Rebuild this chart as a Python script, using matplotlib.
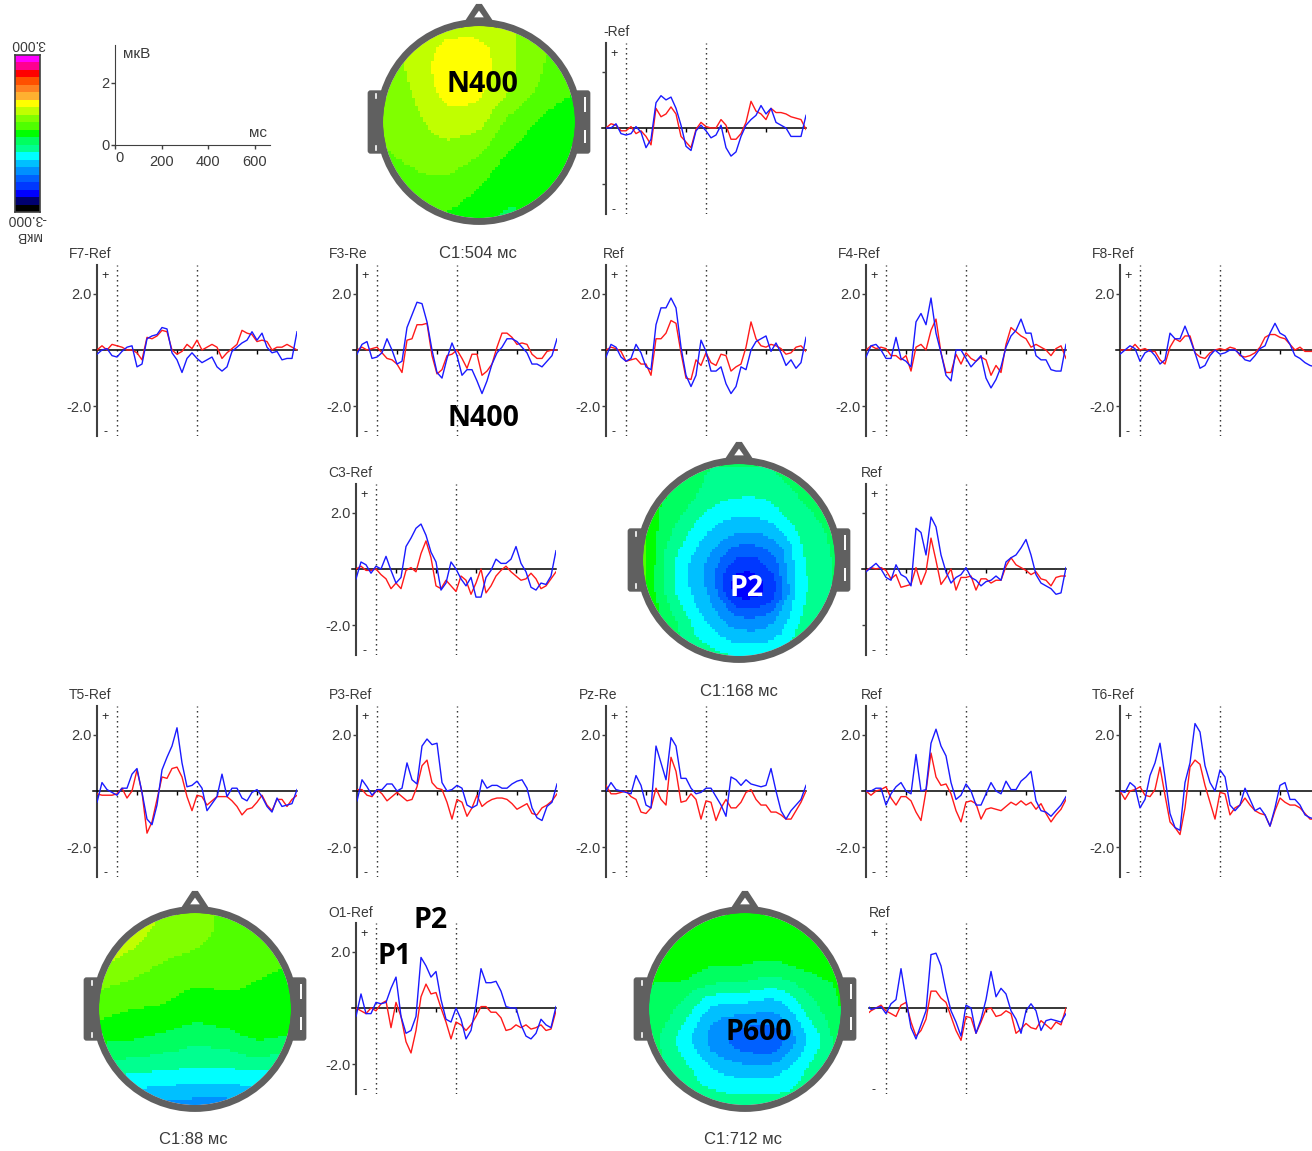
import matplotlib
matplotlib.use("Agg")
import matplotlib.pyplot as plt
import matplotlib.tri as mtri
import numpy as np
from matplotlib.colors import ListedColormap, BoundaryNorm
from matplotlib.patches import Circle, Polygon, FancyBboxPatch

plt.rcParams["font.family"] = ["Liberation Sans", "DejaVu Sans"]

W, H = 1312, 1151
TEXT = "#3a3a3a"
GRAY = "#606060"
BLUE = "#1a1aff"
RED = "#ff1a1a"

# time axis of every trace, ms
t_ms = list(range(-100, 901, 25))

# =========================
# Traces, microvolts
# =========================
fz_top_blue = [0, 0, .15, -.2, -.25, -.2, .05, -.15, -.7, -.4,
               .9, 1.15, 1.0, 1.1, .7, .1, -.65, -.8, -.1, .1,
               -.1, -.35, -.25, .1, -.7, -1.0, -.85, -.3, .1, .3,
               .45, .8, .5, .7, .2, .1, 0, -.3, -.3, -.3, .45]
fz_top_red = [0, .15, .1, -.1, -.1, .05, -.2, -.1, -.3, -.6,
              .7, .4, .5, .75, .5, -.3, -.5, -.7, -.05, .2,
              .05, 0, 0, .3, .1, -.4, -.4, -.2, .2, .95,
              .6, .5, .3, .7, .55, .55, .5, .4, .35, .3, -.05]

f7_blue = [-.15, 0, .05, -.2, -.25, -.05, .1, .15, -.6, -.5,
           .4, .5, .55, .8, .75, -.1, -.35, -.8, -.3, -.1,
           -.3, -.45, -.35, -.25, -.6, -.75, -.6, -.05, .1, .25,
           .35, .65, .35, .6, .1, -.1, -.05, -.35, -.3, -.3, .65]
f7_red = [0, .15, 0, .2, .15, .1, 0, 0, -.1, -.35,
          .45, .4, .5, .7, .65, 0, -.15, -.05, .2, .05,
          .35, 0, .1, .2, .1, -.3, -.1, .05, .2, .7,
          .6, .55, .3, .35, .3, 0, .1, .1, .2, .1, 0]

f3_blue = [-.15, .2, .3, -.3, -.25, -.1, .4, 0, -.5, -.4,
           .8, 1.25, 1.7, 1.65, 1.0, 0, -.8, -1.0, -.3, .25,
           -.2, -.9, -.7, -.7, -1.1, -1.55, -1.1, -.5, -.1, .1,
           .4, .4, .3, .1, -.1, -.5, -.5, -.6, -.4, -.2, .4]
f3_red = [0, .1, 0, .05, .1, -.1, -.3, -.35, -.5, -.8,
          .35, .4, .9, .9, .95, -.2, -.85, -.7, -.2, -.15,
          0, -.3, -.65, -.15, -.15, -.9, -.75, -.5, .1, .6,
          .6, .45, .2, .25, .2, -.15, -.3, -.3, -.05, 0, 0]

fz_blue = [-.25, .2, .1, -.25, -.4, -.3, .2, -.1, -.6, -.7,
           .9, 1.5, 1.5, 1.85, 1.5, .1, -.9, -1.3, -.9, .35,
           -.05, -.75, -.75, -.6, -1.2, -1.55, -1.3, -.6, -.7, 0,
           .3, .4, .5, -.05, .25, -.1, -.55, -.35, -.65, -.45, .45]
fz_red = [0, .1, .05, -.05, -.4, -.35, -.3, -.5, -.5, -.9,
          .4, .4, .6, 1.05, .95, -.1, -1.0, -1.05, -.35, -.55,
          -.1, -.45, -.55, -.15, -.2, -.75, -.6, -.5, .1, 1.0,
          .4, .15, .1, .2, .15, .05, -.15, -.1, .1, .15, -.05]

f4_blue = [-.25, .15, .2, 0, -.3, -.3, .45, -.3, -.4, -.6,
           1.0, 1.3, .9, 1.85, .6, -.1, -.9, -1.1, 0, 0,
           -.3, -.6, -.4, -.2, -1.0, -1.35, -1.05, -.6, .1, .5,
           .7, 1.1, .6, .6, -.2, -.35, -.35, -.7, -.75, -.75, .2]
f4_red = [0, .15, .05, .1, .05, -.2, -.2, -.35, -.2, -.75,
          .1, .2, 0, .7, 1.1, -.1, -.8, -.8, -.15, -.5,
          -.1, -.3, -.4, -.25, -.35, -.9, -.55, -.8, .2, .8,
          .65, .5, .4, .1, .2, .1, 0, -.2, .05, .15, -.3]

f8_blue = [-.15, 0, .15, .05, -.4, -.1, 0, -.2, -.5, -.35,
           .6, .4, .4, .85, .4, -.1, -.65, -.55, -.2, 0,
           -.15, -.1, 0, 0, -.15, -.35, -.4, -.2, .05, .15,
           .6, .95, .6, .5, .2, -.2, -.3, -.45, -.55, -.6, -.65]
f8_red = [0, 0, 0, .2, 0, .05, -.05, -.05, -.35, -.5,
          .1, .4, .3, .5, .5, -.1, -.25, -.3, -.1, 0,
          .05, 0, .1, .05, -.2, -.25, -.2, -.1, .1, .45,
          .55, .55, .45, .4, .2, 0, .1, -.05, -.05, -.05, -.05]

c3_blue = [-.35, .25, .15, -.15, .1, 0, .45, -.05, -.5, -.3,
           .8, 1.1, 1.45, 1.6, 1.2, .6, .25, -.75, -.5, .25,
           0, -.35, -.6, -.3, -1.0, -1.0, -.3, -.05, .35, .2,
           .2, .35, .8, .2, -.1, -.65, -.75, -.5, -.55, -.25, .65]
c3_red = [0, .1, -.05, -.05, 0, -.2, -.35, -.7, -.5, -.7,
          -.05, .05, -.1, .55, 1.0, .4, -.6, -.7, -.4, -.6,
          -.8, -.25, -.4, -.9, -.5, 0, -.85, -.6, -.25, -.05,
          .1, -.1, -.25, -.4, -.35, -.15, -.35, -.7, -.6, -.35, -.1]

c4_blue = [-.1, .05, .2, 0, -.3, -.4, .15, -.2, -.3, -.6,
           1.45, 1.3, .5, 1.85, 1.5, .5, -.1, -.5, -.3, -.2,
           .05, -.3, -.4, -.6, -.45, -.4, -.25, -.4, .25, .4,
           .5, .75, 1.05, .5, -.2, -.5, -.6, -.7, -.9, -.85, .05]
c4_red = [-.05, .05, 0, .05, -.05, -.35, -.2, -.65, -.6, -.55,
          .05, -.55, -.1, 1.1, .3, -.55, -.3, 0, -.75, -.3,
          -.3, -.25, -.75, -.35, -.35, -.5, -.4, -.4, .1, .4,
          .15, .05, -.05, -.2, -.1, -.35, -.4, -.6, -.3, -.25, -.25]

t5_blue = [-.4, .3, .05, -.05, -.15, .1, .1, .6, .8, -.05,
           -1.0, -1.2, -.5, .75, 1.2, 1.6, 2.25, 1.0, .15, .2,
           .35, .1, -.7, -.45, -.2, .6, -.2, .1, .1, -.25,
           -.35, -.05, .05, -.2, -.55, -.75, -.25, -.55, -.5, -.45, .05]
t5_red = [-.1, -.15, -.15, -.15, -.1, .1, -.25, 0, .75, -.05,
          -1.5, -1.1, -.3, .5, .45, .8, .85, .5, -.2, -.7,
          -.15, -.2, -.5, -.35, -.2, -.2, -.2, -.35, -.55, -.85,
          -.65, -.6, -.4, -.15, -.5, -.7, -.3, -.3, -.55, -.3, -.15]

p3_blue = [-.35, .4, .15, -.15, .05, .05, .25, .25, 0, .1,
           1.0, .4, .25, 1.6, 1.85, 1.65, 1.7, .3, 0, .05,
           .2, .1, -.5, -.6, -.5, .4, .1, .2, .2, .1,
           .1, .25, .35, .4, .1, -.6, -.95, -1.05, -.55, -.4, .25]
p3_red = [.05, .05, -.15, -.2, .05, -.1, -.35, -.2, -.05, -.2,
          -.35, -.3, .15, .9, 1.1, .3, .1, .05, -.4, -1.0,
          -.3, -.4, -.9, -.6, -.15, -.55, -.4, -.3, -.25, -.25,
          -.3, -.45, -.65, -.55, -.45, -.8, -.85, -.6, -.5, -.35, -.1]

pz_blue = [0, .3, .05, 0, -.05, -.1, .55, .2, -.5, -.6,
           1.6, 1.0, .4, 1.9, 1.6, .45, .45, .1, -.1, -.05,
           .1, .1, -.2, -.5, -.9, .5, .4, .2, .4, .25,
           .2, .15, .2, .8, 0, -.7, -1.0, -.7, -.5, -.3, .2]
pz_red = [.2, -.1, -.1, -.05, 0, -.2, -.3, -.75, -.8, -.6,
          .1, -.3, -.5, 1.2, .7, -.4, -.35, -.1, -.3, -1.0,
          -.35, -.4, -1.05, -.6, -.3, -.6, -.6, -.4, -.05, .05,
          -.3, -.5, -.5, -.75, -.75, -.85, -1.0, -1.0, -.7, -.4, 0]

p4_blue = [0, 0, .1, .1, -.5, -.1, .15, .3, 0, -.1,
           1.3, 0, .05, 1.7, 2.2, 1.6, 1.25, .3, -.3, -.15,
           .25, 0, -.5, -.5, -.1, .3, 0, -.1, .35, .05,
           .05, .35, .5, .7, -.35, -.7, -.75, -.9, -.7, -.5, -.2]
p4_red = [0, -.15, 0, .05, .15, -.25, -.5, -.2, -.2, -.35,
          -.75, -1.05, 0, 1.35, .5, .2, .25, -.1, -.7, -1.1,
          -.4, -.35, -.45, -1.0, -.65, -.6, -.65, -.7, -.55, -.4,
          -.5, -.35, -.5, -.4, -.65, -.45, -.8, -1.1, -.85, -.65, -.3]

t6_blue = [0, -.05, .3, .15, -.6, -.3, .55, 1.0, 1.7, .5,
           -.8, -1.3, -1.4, .3, 1.0, 2.4, 2.1, .9, .3, 0,
           .75, .5, -.5, -.7, -.5, .1, -.3, -.7, -.6, -.85,
           -1.25, -.6, .2, .3, -.3, -.3, -.5, -.85, -.95, -1.0, -1.05]
t6_red = [0, -.3, 0, .05, .15, -.15, -.2, .05, .85, -.15,
          -1.1, -1.3, -1.55, -.6, .85, 1.1, .95, .2, -.4, -1.0,
          -.05, -.1, -.85, -.6, -.5, -.25, -.5, -.7, -.8, -.85,
          -1.25, -.7, -.25, -.4, -.5, -.5, -.6, -.8, -1.0, -1.0, -1.0]

o1_blue = [-.3, .5, -.2, -.2, .2, .15, .2, .7, 1.1, -.3,
           -.9, -.8, -.3, 1.8, 1.5, 1.1, 1.3, .3, -.4, -.5,
           0, -.4, -1.1, -.8, .1, 1.4, .9, .9, .95, .6,
           .05, 0, 0, -.6, -1.0, -1.1, -.9, -.4, -.6, -.7, .05]
o1_red = [0, -.1, -.2, 0, -.1, .15, .25, -.7, .2, -.3,
          -1.2, -1.6, -.8, .4, .85, .5, .55, 0, -.5, -1.1,
          -.5, -.6, -.8, -.6, -.3, .05, .05, -.15, -.15, -.35,
          -.8, -.75, -.6, -.7, -.6, -.75, -.7, -.6, -.8, -.75, -.1]

o2_blue = [.15, -.05, 0, .05, -.2, .15, .3, 1.4, .3, -.7,
           -1.1, -.6, -.1, 1.9, 1.95, 1.5, .6, -.1, -.5, -1.0,
           .1, 0, -.9, -.4, .3, 1.3, .4, .7, .5, -.1,
           -.4, -.9, -.1, .15, -.1, -.8, -.45, -.4, -.45, -.5, -.2]
o2_red = [-.25, -.1, 0, .1, -.1, -.2, -.3, .1, .2, -.5,
          -1.0, -.8, -.4, .6, .6, .35, .2, -.3, -.8, -1.15,
          -.3, -.35, -.9, -.5, -.05, 0, -.3, -.25, -.1, -.2,
          -.9, -.75, -.55, -.7, -.75, -.45, -.6, -.75, -.5, -.6, 0]

# =========================
# Scalp maps, microvolts on a 7x7 grid (top row is the front of the head)
# =========================
map_xy = [-1, -.67, -.33, 0, .33, .67, 1]
map_504 = [[.8, .85, .9, .9, .75, .5, .4],
           [.6, .8, 1.15, 1.1, .78, .45, .3],
           [.5, .75, 1.1, 1.05, .7, .35, .15],
           [.45, .65, .85, .8, .35, .1, .05],
           [.4, .5, .6, .45, .12, 0, 0],
           [.25, .35, .35, .15, 0, -.05, 0],
           [.1, .1, .1, 0, -.2, -.1, 0]]
map_168 = [[-.2, -.3, -.4, -.4, -.4, -.35, -.3],
           [0, -.2, -.55, -.7, -.65, -.4, -.3],
           [.15, -.45, -.95, -1.2, -1.1, -.6, -.35],
           [.2, -.7, -1.3, -1.9, -1.7, -.75, -.4],
           [.15, -.7, -1.3, -2.25, -2.0, -.8, -.4],
           [0, -.4, -1.0, -1.4, -1.3, -.65, -.35],
           [-.2, -.3, -.55, -.75, -.7, -.4, -.35]]
map_88 = [[.9, .85, .7, .5, .4, .3, .2],
          [.9, .75, .55, .45, .35, .3, .2],
          [.55, .45, .3, .2, .2, .15, .1],
          [.25, .15, .1, 0, .05, .05, .05],
          [-.1, -.15, -.25, -.35, -.3, -.15, -.2],
          [-.6, -.7, -.75, -.8, -.8, -.75, -.75],
          [-1.3, -1.3, -1.35, -1.4, -1.4, -1.3, -1.1]]
map_712 = [[0, 0, 0, 0, 0, 0, 0],
           [0, 0, 0, .05, .05, 0, 0],
           [-.1, -.1, -.3, -.35, -.45, -.2, -.05],
           [-.2, -.5, -1.05, -1.15, -1.2, -.6, -.15],
           [-.3, -.8, -1.4, -1.7, -1.7, -.95, -.3],
           [-.3, -.55, -.95, -1.1, -1.05, -.65, -.3],
           [-.35, -.4, -.5, -.55, -.55, -.45, -.3]]

# colour scale, bottom to top
band_colors = ["#000000", "#000070", "#0000ff", "#0038ff", "#0060ff", "#0090ff", "#00c0ff",
               "#00ffff", "#00ff90", "#00ff60", "#00ff00", "#50ff00", "#80ff00", "#c0ff00",
               "#ffff00", "#ffb030", "#ff8020", "#ff5000", "#ff0000", "#ff0090", "#ff00ff"]
levels = np.linspace(-3, 3, len(band_colors) + 1)
cmap = ListedColormap(band_colors)
norm = BoundaryNorm(levels, cmap.N)

fig = plt.figure(figsize=(W / 100, H / 100), dpi=100)
fig.patch.set_facecolor("white")


def px_axes(left, top, width, height):
    return fig.add_axes([left / W, 1 - (top + height) / H, width / W, height / H])


def px_text(x, y, s, **kw):
    kw.setdefault("ha", "left")
    kw.setdefault("va", "center")
    kw.setdefault("color", TEXT)
    kw.setdefault("fontsize", 10)
    fig.text(x / W, 1 - y / H, s, **kw)


# =========================
# One trace panel
# =========================
def draw_panel(axis_x, zero_y, blue, red, ylabels=True, yticks=True, axis_line=True):
    px_per_uv = 28.1
    start = 3 if not axis_line else 0
    ax = px_axes(axis_x + start, zero_y - 85, 200 - start, 171)
    ax.patch.set_alpha(0)
    ax.set_xlim(-100 + start * 5, 900)
    ax.set_ylim(-86 / px_per_uv, 85 / px_per_uv)
    for side in ["top", "right"]:
        ax.spines[side].set_visible(False)
    ax.spines["bottom"].set_position(("data", 0))
    ax.spines["bottom"].set_linewidth(1.1)
    ax.spines["left"].set_linewidth(1.5)
    ax.spines["left"].set_color("#404040")
    ax.spines["left"].set_visible(axis_line)
    ax.set_xticks([100, 300, 500, 700])
    ax.set_xticklabels([])
    ax.tick_params(axis="x", length=3, width=1, direction="out")
    if yticks:
        ax.set_yticks([-2, 2])
        ax.tick_params(axis="y", length=3, width=1, color="#404040", pad=1)
        if ylabels:
            ax.set_yticklabels(["-2.0", "2.0"], fontsize=10.5, color=TEXT)
        else:
            ax.set_yticklabels([])
    else:
        ax.set_yticks([])
    if axis_line:
        ax.plot([-120, -100], [0, 0], color="black", lw=1.1, clip_on=False)
    ax.axvline(0, color="#202020", lw=1, ls=(0, (1, 2.6)))
    ax.axvline(400, color="#202020", lw=1, ls=(0, (1, 2.6)))
    ax.plot(t_ms, red, color=RED, lw=1, zorder=3)
    ax.plot(t_ms, blue, color=BLUE, lw=1, zorder=3.1)
    px_text(axis_x + 8, zero_y - 74, "+", fontsize=9, ha="center", color="#222222")
    px_text(axis_x + 8, zero_y + 82, "-", fontsize=9, ha="center", color="#222222")


# =========================
# One scalp map
# =========================
def draw_head(cx, cy, r, grid):
    lim = 1.3
    ax = px_axes(cx - lim * r, cy - lim * r, 2 * lim * r, 2 * lim * r)
    ax.axis("off")
    ax.patch.set_alpha(0)
    # ears and nose sit under the scalp colours
    for x0 in [-1.16, .97]:
        ax.add_patch(FancyBboxPatch((x0, -.33), .19, .66, boxstyle="round,pad=0,rounding_size=.03",
                                    fc=GRAY, ec=GRAY, lw=0))
    ax.add_patch(Polygon([(-.2, .97), (.2, .97), (.03, 1.23), (-.03, 1.23)], fc=GRAY, ec=GRAY, lw=0))
    ax.add_patch(Polygon([(-.05, 1.09), (.05, 1.09), (0, 1.16)], fc="white", ec="white", lw=0, zorder=1.2))
    ax.plot([1.1, 1.1], [.1, .26], color="white", lw=1.4, solid_capstyle="butt")
    ax.plot([1.1, 1.1], [-.22, -.08], color="white", lw=1.4, solid_capstyle="butt")
    ax.plot([-1.07, -1.07], [.25, .29], color="white", lw=1.2)
    ax.plot([-1.07, -1.07], [-.29, -.25], color="white", lw=1.2)
    # the program paints the map in small square cells, so smooth the grid onto fine cells
    gx, gy = np.meshgrid(map_xy, map_xy)
    tri = mtri.Triangulation(gx.ravel(), gy.ravel())
    interp = mtri.CubicTriInterpolator(tri, np.array(grid)[::-1].ravel(), kind="geom")
    fine = np.linspace(-.995, .995, 72)
    fx, fy = np.meshgrid(fine, fine)
    im = ax.imshow(interp(fx, fy), cmap=cmap, norm=norm, origin="lower", extent=[-1, 1, -1, 1],
                   interpolation="nearest", aspect="auto", zorder=1.5)
    im.set_clip_path(Circle((0, 0), 1.0, transform=ax.transData))
    ax.add_patch(Circle((0, 0), 1.036, fc="none", ec=GRAY, lw=5, zorder=2))
    ax.set_xlim(-lim, lim)
    ax.set_ylim(-lim, lim)


# =========================
# Colour bar and the small scale
# =========================
cbar_ax = px_axes(15, 55, 25, 157)
cbar_ax.pcolormesh([0, 1], levels, np.array(levels[:-1] + .01).reshape(-1, 1), cmap=cmap, norm=norm)
cbar_ax.set_xticks([])
cbar_ax.set_yticks([])
for spine in cbar_ax.spines.values():
    spine.set_color("#404040")
    spine.set_linewidth(1.2)
px_text(28, 44, "3.000", rotation=180, ha="center", fontsize=10)
px_text(27, 219, "-3.000", rotation=180, ha="center", fontsize=10)
px_text(28, 236, "мкВ", rotation=180, ha="center", fontsize=10)

scale_ax = px_axes(115, 45, 155, 100)
scale_ax.patch.set_alpha(0)
scale_ax.set_xlim(0, 155 / .2333)
scale_ax.set_ylim(0, 100 / 31)
for side in ["top", "right"]:
    scale_ax.spines[side].set_visible(False)
scale_ax.spines["left"].set_color("#404040")
scale_ax.spines["bottom"].set_color("#404040")
scale_ax.set_xticks([0, 200, 400, 600])
scale_ax.set_xticklabels(["", "200", "400", "600"], fontsize=10.5, color=TEXT)
scale_ax.set_yticks([0, 2])
scale_ax.set_yticklabels(["0", "2"], fontsize=10.5, color=TEXT)
scale_ax.tick_params(length=3, width=1, color="#404040", pad=4)
scale_ax.tick_params(axis="y", pad=1)
px_text(120, 158, "0", ha="center", fontsize=10.5)
px_text(123, 54, "мкВ", fontsize=11)
px_text(249, 133, "мс", fontsize=11)

# =========================
# Panels
# =========================
draw_panel(606, 128, fz_top_blue, fz_top_red, ylabels=False)
draw_panel(97, 350, f7_blue, f7_red)
draw_panel(357, 350, f3_blue, f3_red)
draw_panel(606, 350, fz_blue, fz_red)
draw_panel(866, 350, f4_blue, f4_red)
draw_panel(1120, 350, f8_blue, f8_red)
draw_panel(356, 569, c3_blue, c3_red)
draw_panel(866, 569, c4_blue, c4_red, ylabels=False)
draw_panel(97, 791, t5_blue, t5_red)
draw_panel(357, 791, p3_blue, p3_red)
draw_panel(606, 791, pz_blue, pz_red)
draw_panel(866, 791, p4_blue, p4_red)
draw_panel(1120, 791, t6_blue, t6_red)
draw_panel(356, 1008, o1_blue, o1_red)
draw_panel(866, 1008, o2_blue, o2_red, yticks=False, axis_line=False)

# panel names, cut the same way as on the screen capture
names = ["-Ref", "F7-Ref", "F3-Re", "Ref", "F4-Ref", "F8-Ref", "C3-Ref", "Ref",
         "T5-Ref", "P3-Ref", "Pz-Re", "Ref", "T6-Ref", "O1-Ref", "Ref"]
name_x = [603, 69, 329, 603, 838, 1092, 328, 861, 69, 329, 579, 861, 1092, 328, 869]
name_y = [32, 254, 254, 254, 254, 254, 473, 473, 695, 695, 695, 695, 695, 913, 913]
for s, x, y in zip(names, name_x, name_y):
    px_text(x, y, s, fontsize=10)

# =========================
# Heads and labels
# =========================
draw_head(479, 122, 96, map_504)
draw_head(739, 560, 96, map_168)
draw_head(195, 1009, 96, map_88)
draw_head(745, 1009, 96, map_712)

px_text(478, 253, "C1:504 мс", ha="center", fontsize=12)
px_text(739, 691, "C1:168 мс", ha="center", fontsize=12)
px_text(193, 1140, "C1:88 мс", ha="center", fontsize=12)
px_text(743, 1140, "C1:712 мс", ha="center", fontsize=12)

big = dict(ha="center", fontsize=20.5, fontweight="bold", family="Open Sans")
px_text(482, 84, "N400", color="black", **big)
px_text(483, 418, "N400", color="black", **big)
px_text(747, 589, "P2", color="white", **big)
px_text(759, 1033, "P600", color="black", **big)
px_text(395, 956, "P1", color="black", **big)
px_text(431, 921, "P2", color="black", **big)

fig.savefig("out.png", dpi=100, facecolor="white")
